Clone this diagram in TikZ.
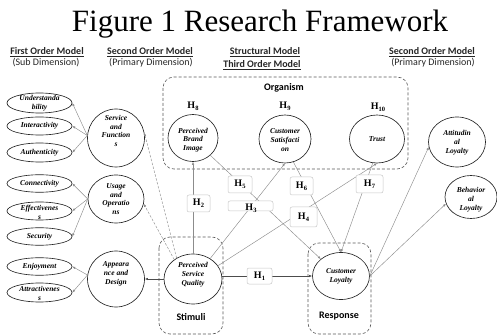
\documentclass[tikz,border=0pt]{standalone}
\usepackage{fontspec}
\setmainfont{Liberation Serif}
\newfontfamily\hdrfont{Carlito}
\usetikzlibrary{shapes.geometric,arrows.meta}
\definecolor{lnc}{HTML}{8C8C8C}
\newcommand\Hs[1]{H\raisebox{-1.6pt}{\fontsize{6.5}{6.5}\selectfont\bfseries #1}}
\begin{document}
\begin{tikzpicture}[x=1pt,y=-1pt,
 ell/.style={ellipse, draw=black!85, line width=0.65pt, inner sep=0pt},
 etxt/.style={font=\fontsize{7.5}{8.8}\selectfont\bfseries\itshape, align=center, inner sep=0pt},
 conn/.style={draw=lnc, line width=0.45pt, -{Latex[length=3pt,width=2.4pt]}},
 dconn/.style={conn, dash pattern=on 2.5pt off 1.5pt},
 dark/.style={draw=black!70, line width=0.55pt, -{Latex[length=3pt,width=2.4pt]}},
 grp/.style={draw=black!65, dash pattern=on 3pt off 2pt, rounded corners=11pt, line width=0.6pt},
 hbox/.style={draw=black!22, fill=white, rounded corners=2pt, line width=0.5pt, inner sep=0pt, font=\fontsize{10}{10}\selectfont\bfseries},
 htxt/.style={font=\fontsize{10}{10}\selectfont\bfseries, inner sep=0pt},
 hdr/.style={font=\hdrfont\fontsize{10}{12}\selectfont, text=black!85, anchor=base},
 glbl/.style={font=\hdrfont\bfseries\fontsize{10}{12}\selectfont, inner sep=0pt}
]
\useasboundingbox (0,0) rectangle (497,336);

% title and headers
\node[font=\fontsize{31}{31}\selectfont, anchor=base, inner sep=0pt] (title) at (260,32) {Figure 1 Research Framework};
\node[hdr] (fo1) at (47,54.5) {\bfseries\underline{First Order Model}};
\node[hdr] (fo2) at (46,66) {(Sub Dimension)};
\node[hdr] (so1) at (150,54.5) {\bfseries\underline{Second Order Model}};
\node[hdr] (so2) at (151,66) {(Primary Dimension)};
\node[hdr] (st1) at (265,54.5) {\bfseries\underline{Structural Model}};
\node[hdr] (st2) at (262,68) {\bfseries\underline{Third Order Model}};
\node[hdr] (so3) at (432,54.5) {\bfseries\underline{Second Order Model}};
\node[hdr] (so4) at (433,66) {(Primary Dimension)};

% group boxes
\draw[grp] (163,77) rectangle (408,169);
\draw[grp] (159,237) rectangle (223,334);
\draw[grp] (308,243) rectangle (371,334);
\node[glbl] (org) at (284,88) {Organism};
\node[glbl] (stim) at (191,317) {Stimuli};
\node[glbl] (resp) at (339,316) {Response};

% first order ellipses
\foreach \n/\y/\h in {und/103/20, int/126/18, aut/152.5/19, con/183.5/17.5, eff/211/18, sec/236.5/17.5, enj/266.5/17.5, att/292.5/19}
  \node[ell, minimum width=65pt, minimum height=\h pt] (\n) at (39.5,\y) {};
\node[etxt] (undt) at (39.5,103.5) {Understanda\\bility};
\node[etxt] (intt) at (39.5,126) {Interactivity};
\node[etxt] (autt) at (39.5,152.5) {Authenticity};
\node[etxt] (cont) at (39.5,183.5) {Connectivity};
\node[etxt] (efft) at (39.5,212) {Effectivenes\\s};
\node[etxt] (sect) at (39.5,236.5) {Security};
\node[etxt] (enjt) at (39.5,266.5) {Enjoyment};
\node[etxt] (attt) at (39.5,293.5) {Attractivenes\\s};

% second order
\node[ell, minimum width=57pt, minimum height=58pt] (sf) at (116,138) {};
\node[etxt] (sft) at (116,131) {Service\\and\\Function\\s};
\node[ell, minimum width=56pt, minimum height=48pt] (uo) at (116,199) {};
\node[etxt] (uot) at (116,199) {Usage\\and\\Operatio\\ns};
\node[ell, minimum width=57pt, minimum height=56pt] (ad) at (116,279) {};
\node[etxt] (adt) at (116,274) {Appeara\\nce and\\Design};

% structural
\node[ell, minimum width=58pt, minimum height=50pt] (psq) at (193,279) {};
\node[etxt] (psqt) at (193,275) {Perceived\\Service\\Quality};
\node[ell, minimum width=57pt, minimum height=47pt] (cl) at (341,276) {};
\node[etxt] (clt) at (341,276.5) {Customer\\Loyalty};
\node[ell, minimum width=50pt, minimum height=47pt] (pbi) at (193,138) {};
\node[etxt] (pbit) at (193,140) {Perceived\\Brand\\Image};
\node[ell, minimum width=52pt, minimum height=48pt] (cs) at (285,139) {};
\node[etxt] (cst) at (285,140) {Customer\\Satisfacti\\on};
\node[ell, minimum width=55pt, minimum height=48pt] (trust) at (377,139) {};
\node[etxt] (trustt) at (377,139) {Trust};
\node[ell, minimum width=57pt, minimum height=50pt] (al) at (457,142) {};
\node[etxt] (alt) at (457,143) {Attitudin\\al\\Loyalty};
\node[ell, minimum width=52pt, minimum height=43pt] (bl) at (471,197) {};
\node[etxt] (blt) at (471,200) {Behavior\\al\\Loyalty};

% hypothesis labels above circles
\node[htxt] (h8) at (193,106) {\Hs{8}};
\node[htxt] (h9) at (285,106) {\Hs{9}};
\node[htxt] (h10) at (378,107) {\Hs{10}};

% connectors: first order
\draw[conn] (sf.175) -- (und.east);
\draw[conn] (sf.175) -- (int.east);
\draw[conn] (sf.175) -- (aut.east);
\draw[conn] (uo.west) -- (con.east);
\draw[conn] (uo.west) -- (eff.east);
\draw[conn] (uo.west) -- (sec.east);
\draw[conn] (ad.172) -- (enj.east);
\draw[conn] (ad.172) -- (att.east);

% connectors: structural
\draw[dark] (psq.west) -- (ad.east);
\draw[dconn] (psq.128) -- (sf.10);
\draw[dconn] (psq.134) -- (uo.-10);
\draw[dark] (psq.east |- cl.west) -- (cl.west);
\draw[conn] (psq.north) -- (pbi.south);
\draw[conn] (psq.50) -- (cs.south);
\draw[conn] (psq.28) -- (trust.south);
\draw[conn] (pbi.-45) -- (cl.140);
\draw[conn] (cs.-70) -- (cl.north);
\draw[conn] (trust.-100) -- (cl.north);
\draw[conn] (cl.east) -- (al.190);
\draw[conn] (cl.east) -- (bl.195);

% hypothesis boxes
\node[hbox, minimum width=23pt, minimum height=17pt] (h2) at (198.5,203.5) {\Hs{2}};
\node[hbox, minimum width=24pt, minimum height=17pt] (h5) at (240,184.5) {\Hs{5}};
\node[hbox, minimum width=45pt, minimum height=10pt] (h3box) at (250.5,206) {};
\node[htxt] (h3) at (251,208) {\Hs{3}};
\node[hbox, minimum width=23pt, minimum height=18pt] (h6) at (301.5,186) {\Hs{6}};
\node[hbox, minimum width=27pt, minimum height=20pt] (h4) at (303.5,217) {\Hs{4}};
\node[hbox, minimum width=27pt, minimum height=18pt] (h7) at (369.5,184) {\Hs{7}};
\node[hbox, minimum width=25pt, minimum height=16pt] (h1) at (259.5,276) {\Hs{1}};
\end{tikzpicture}
\end{document}
